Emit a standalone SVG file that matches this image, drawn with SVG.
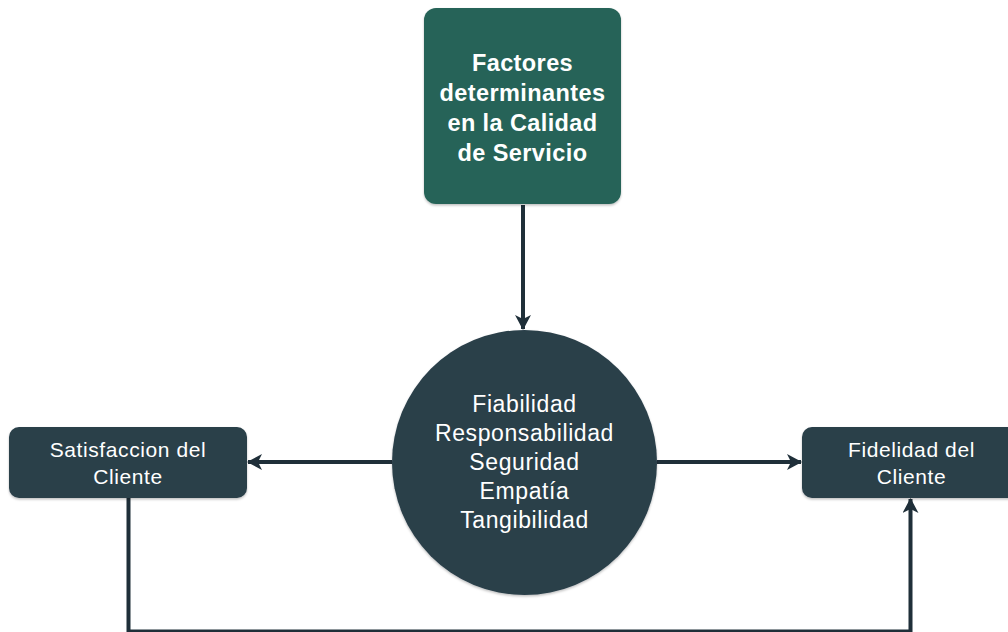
<svg xmlns="http://www.w3.org/2000/svg" width="1008" height="632" viewBox="0 0 1008 632">
  <style>
    .title { font-family: "Liberation Sans", Arial, sans-serif; font-weight: bold; font-size: 23.5px; letter-spacing: 0.4px; fill: #ffffff; text-anchor: middle; }
    .label { font-family: "Liberation Sans", Arial, sans-serif; font-size: 21px; letter-spacing: 0.6px; fill: #ffffff; text-anchor: middle; }
    .big { font-size: 23px; }
    .dark { fill: #2a3f4a; }
    .edge { fill: none; stroke: #1f2f39; stroke-width: 4; }
  </style>
  <defs>
    <marker id="arrow" viewBox="0 0 16 16" refX="14" refY="8" markerWidth="16" markerHeight="16" markerUnits="userSpaceOnUse" orient="auto">
      <path d="M0,0 L15,8 L0,16 L4,8 Z" fill="#1f2f39"/>
    </marker>
    <filter id="shadow" x="-10%" y="-10%" width="120%" height="125%">
      <feDropShadow dx="0" dy="1.5" stdDeviation="1.2" flood-color="#000000" flood-opacity="0.25"/>
    </filter>
  </defs>
  <rect width="1008" height="632" fill="#ffffff"/>

  <g id="connectors">
    <path class="edge" d="M523,205 L523,329" marker-end="url(#arrow)"/>
    <path class="edge" d="M392,462 L248,462" marker-end="url(#arrow)"/>
    <path class="edge" d="M657,462 L801,462" marker-end="url(#arrow)"/>
    <path class="edge" d="M128.5,498 L128.5,631.5 L910.5,631.5 L910.5,499" marker-end="url(#arrow)"/>
  </g>

  <g id="factores">
    <rect x="424" y="8" width="197" height="196" rx="12" fill="#276358" filter="url(#shadow)"/>
    <text class="title" x="522.5" y="71">Factores</text>
    <text class="title" x="522.5" y="101">determinantes</text>
    <text class="title" x="522.5" y="131">en la Calidad</text>
    <text class="title" x="522.5" y="161">de Servicio</text>
  </g>

  <g id="dimensiones">
    <circle class="dark" cx="524.5" cy="462.5" r="132.5" filter="url(#shadow)"/>
    <text class="label big" x="524.5" y="412">Fiabilidad</text>
    <text class="label big" x="524.5" y="441">Responsabilidad</text>
    <text class="label big" x="524.5" y="470">Seguridad</text>
    <text class="label big" x="524.5" y="499">Empatía</text>
    <text class="label big" x="524.5" y="528">Tangibilidad</text>
  </g>

  <g id="satisfaccion">
    <rect class="dark" x="9" y="427" width="238" height="71" rx="10" filter="url(#shadow)"/>
    <text class="label" x="128" y="457">Satisfaccion del</text>
    <text class="label" x="128" y="484">Cliente</text>
  </g>

  <g id="fidelidad">
    <rect class="dark" x="802" y="427" width="218" height="71" rx="10" filter="url(#shadow)"/>
    <text class="label" x="911.5" y="457">Fidelidad del</text>
    <text class="label" x="911.5" y="484">Cliente</text>
  </g>
</svg>
